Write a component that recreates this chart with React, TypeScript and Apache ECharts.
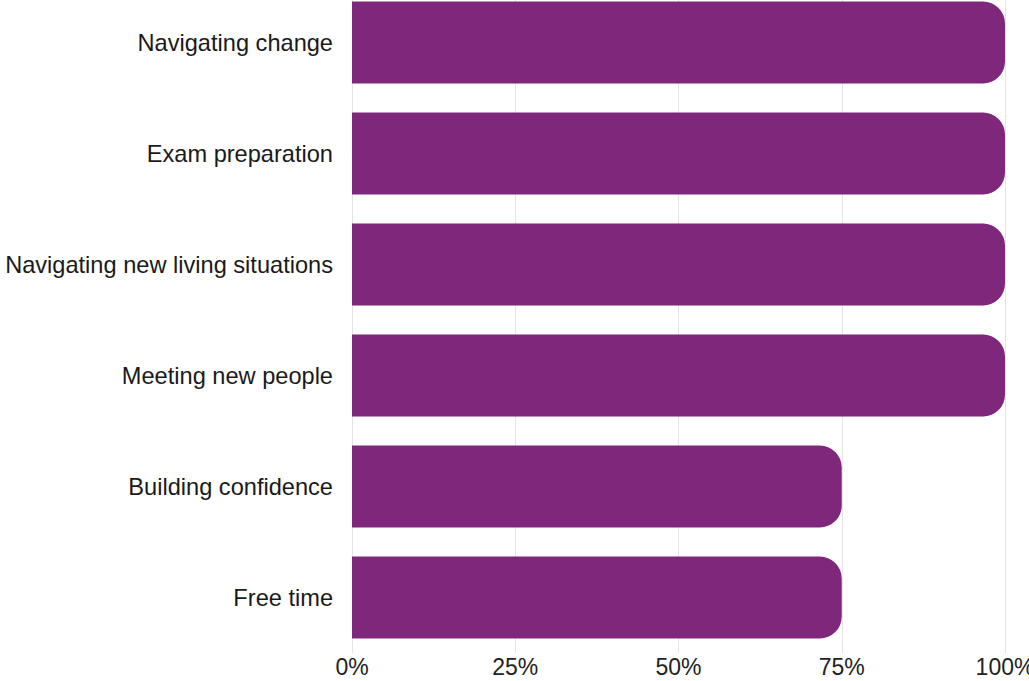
import React, { useEffect, useRef } from "react";
import * as echarts from "echarts";

const categories = [
  "Navigating change",
  "Exam preparation",
  "Navigating new living situations",
  "Meeting new people",
  "Building confidence",
  "Free time",
];
const values = [100, 100, 100, 100, 75, 75];
const xTicks = [0, 25, 50, 75, 100];

export default function App() {
  const ref = useRef<HTMLDivElement>(null);
  useEffect(() => {
    document.body.style.margin = "0";
    const chart = echarts.init(ref.current!, null, { renderer: "svg" });
    chart.setOption({
      animation: false,
      backgroundColor: "#ffffff",
      grid: {
        left: 352,
        right: 24,
        top: 0,
        bottom: 28,
        containLabel: false,
        outerBoundsMode: "none",
      },
      xAxis: {
        type: "value",
        min: 0,
        max: 100,
        interval: 25,
        axisLine: { show: false },
        axisTick: { show: false },
        splitLine: { show: true, lineStyle: { color: "#e4e4e4", width: 1 } },
        axisLabel: {
          formatter: (v: number) => (xTicks.includes(v) ? v + "%" : ""),
          fontFamily: "Liberation Sans",
          fontSize: 23,
          color: "#222222",
          margin: 2,
        },
      },
      yAxis: {
        type: "category",
        data: categories,
        inverse: true,
        axisLine: { show: false },
        axisTick: { show: false },
        splitLine: { show: false },
        axisLabel: {
          fontFamily: "Liberation Sans",
          fontSize: 23.6,
          color: "#1a1a1a",
          margin: 19,
        },
      },
      series: [
        {
          type: "bar",
          data: values,
          barWidth: 82,
          itemStyle: { color: "#7e277b", borderRadius: [0, 22, 22, 0] },
        },
      ],
    });
    return () => chart.dispose();
  }, []);
  return (
    <div style={{ width: 1029, height: 681, overflow: "hidden", position: "relative" }}>
      <div ref={ref} style={{ width: 1029, height: 694, position: "absolute", left: 0, top: -13 }} />
    </div>
  );
}
